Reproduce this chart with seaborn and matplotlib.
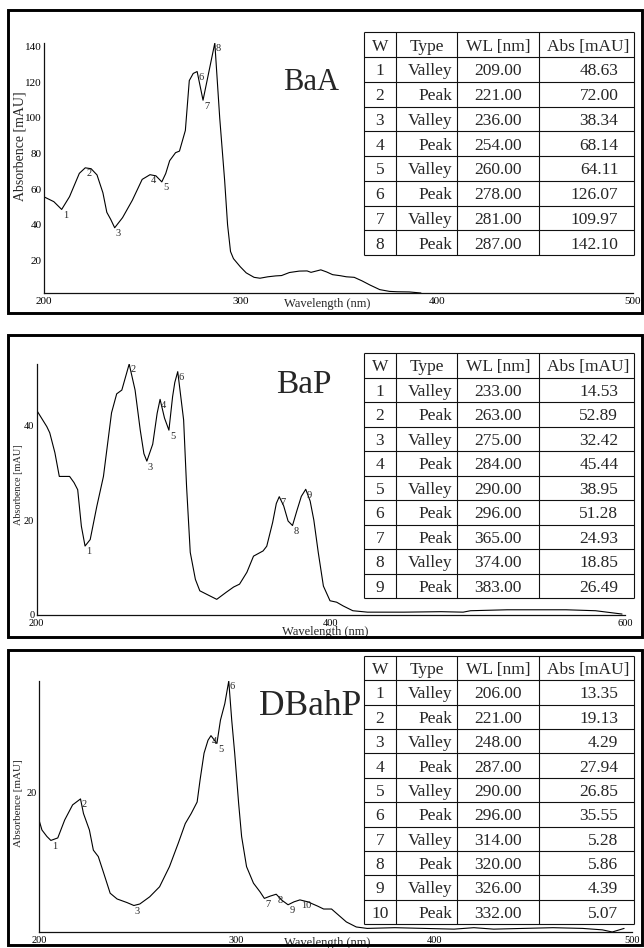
import matplotlib
matplotlib.use("Agg")
import matplotlib.pyplot as plt
import seaborn as sns
from matplotlib.patches import Rectangle

# ---------------- data ----------------
baa_wl = [200, 205, 209, 213, 218, 221, 224, 227, 230, 232, 234, 236, 240, 245, 250, 254, 257, 260,
          262, 264, 267, 269, 272, 274, 276, 278, 281, 287, 289.5, 292, 293.5, 295, 296.5,
          300, 303, 307, 310, 314, 318, 321, 325, 330, 334, 336, 341, 344, 347, 351, 354, 358,
          362, 366, 371, 376, 380, 386, 392]
baa_abs = [55.7, 53.0, 48.63, 55.8, 68.9, 72.0, 71.5, 68.0, 58.0, 47.0, 43.0, 38.34, 44.0, 53.8,
           65.5, 68.14, 67.5, 64.11, 68.8, 76.0, 80.5, 81.4, 93.0, 121.0, 125.0, 126.07, 109.97,
           142.1, 100.0, 65.0, 40.0, 25.0, 21.0,
           16.4, 13.0, 10.5, 10.0, 10.8, 11.3, 11.5, 13.2, 14.0, 14.1, 13.3, 14.7, 13.5, 12.0,
           11.4, 10.8, 10.5, 8.5, 6.2, 3.6, 2.6, 2.4, 2.3, 1.7]

bap_wl = [200, 207, 209, 212.5, 215.5, 222.5, 225.5, 228, 230.5, 233, 236.5, 241, 245.5, 251,
          254.5, 258, 263, 267, 270.5, 273, 275, 279, 282, 284, 287, 290, 292.5, 294, 296, 300,
          302, 304.5, 308, 311, 318, 322.5, 329, 334, 338, 343, 347.5, 354, 356.5, 360.5, 363,
          365, 368, 371, 374, 377, 380, 383, 386, 388.5, 391.5, 395, 399.5, 404, 408.5, 415,
          425, 450, 475, 490, 495, 520, 560, 580, 598]
bap_abs = [43.2, 39.7, 38.4, 34.2, 29.2, 29.2, 27.9, 26.4, 18.7, 14.53, 15.9, 22.9, 29.2, 42.6,
           46.6, 47.4, 52.89, 47.4, 39.0, 34.0, 32.42, 36.0, 42.5, 45.44, 41.5, 38.95, 46.0, 49.0,
           51.28, 41.1, 27.1, 13.2, 7.5, 5.1, 4.0, 3.3, 4.8, 5.9, 6.5, 9.0, 12.4, 13.5, 14.5,
           19.5, 23.5, 24.93, 23.0, 19.8, 18.85, 22.0, 25.0, 26.49, 24.0, 20.0, 13.2, 6.1, 3.0,
           2.7, 1.9, 0.9, 0.6, 0.6, 0.7, 0.6, 0.9, 1.1, 1.1, 0.9, 0.2]

dbp_wl = [200, 201.5, 204, 206, 209.5, 213, 217, 221, 222.5, 225.5, 227.5, 230, 232.5, 236,
          239.5, 244.5, 248, 251, 256, 261, 266, 270.5, 274, 277, 280, 281.5, 283.5, 285.5, 287,
          290, 291.8, 294, 296, 297.5, 299, 301, 302.5, 305, 308.5, 311.8, 314, 317, 320, 323,
          326, 329, 332, 336, 341, 344, 348, 350.5, 355.5, 360.5, 366, 380, 395, 410, 420, 430,
          445, 460, 475, 485, 490, 496]
dbp_abs = [16.2, 14.8, 13.9, 13.35, 13.7, 16.2, 18.3, 19.13, 17.1, 14.8, 12.0, 11.1, 9.0, 6.0,
           5.2, 4.7, 4.29, 4.5, 5.5, 6.9, 9.7, 13.0, 15.7, 17.1, 18.7, 21.8, 25.5, 27.3, 27.94,
           26.85, 30.1, 32.4, 35.55, 30.1, 25.5, 18.5, 13.9, 9.7, 7.4, 6.2, 5.28, 5.6, 5.86, 5.0,
           4.39, 4.8, 5.07, 4.8, 4.2, 3.8, 3.8, 3.2, 2.0, 1.3, 1.1, 1.2, 1.1, 1.0, 1.2, 1.0, 1.1,
           1.2, 1.1, 0.9, 0.6, 1.1]

baa_w = [1, 2, 3, 4, 5, 6, 7, 8]
baa_type = ["Valley", "Peak", "Valley", "Peak", "Valley", "Peak", "Valley", "Peak"]
baa_pwl = [209.00, 221.00, 236.00, 254.00, 260.00, 278.00, 281.00, 287.00]
baa_pabs = [48.63, 72.00, 38.34, 68.14, 64.11, 126.07, 109.97, 142.10]

bap_w = [1, 2, 3, 4, 5, 6, 7, 8, 9]
bap_type = ["Valley", "Peak", "Valley", "Peak", "Valley", "Peak", "Peak", "Valley", "Peak"]
bap_pwl = [233.00, 263.00, 275.00, 284.00, 290.00, 296.00, 365.00, 374.00, 383.00]
bap_pabs = [14.53, 52.89, 32.42, 45.44, 38.95, 51.28, 24.93, 18.85, 26.49]

dbp_w = [1, 2, 3, 4, 5, 6, 7, 8, 9, 10]
dbp_type = ["Valley", "Peak", "Valley", "Peak", "Valley", "Peak", "Valley", "Peak", "Valley", "Peak"]
dbp_pwl = [206.00, 221.00, 248.00, 287.00, 290.00, 296.00, 314.00, 320.00, 326.00, 332.00]
dbp_pabs = [13.35, 19.13, 4.29, 27.94, 26.85, 35.55, 5.28, 5.86, 4.39, 5.07]

compounds = ["BaA", "BaP", "DBahP"]
headers = ["W", "Type", "WL [nm]", "Abs [mAU]"]
x_label = "Wavelength (nm)"
y_label = "Absorbence [mAU]"

# ---------------- style ----------------
sns.set_style("white")
plt.rcParams['font.family'] = ['Liberation Serif', 'DejaVu Serif']

W, H = 644, 948
fig = plt.figure(figsize=(W / 100, H / 100), dpi=100)
fig.patch.set_facecolor("white")


def px_rect(l, t, r, b):
    return [l / W, 1 - b / H, (r - l) / W, (b - t) / H]


panels = [
    dict(name=compounds[0], wl=baa_wl, ab=baa_abs, w=baa_w, typ=baa_type, pwl=baa_pwl, pab=baa_pabs,
         ax=(44, 43, 633, 293), xlim=(200, 500), ylim=(1.7, 142.1),
         xt=[200, 300, 400, 500], yt=[20, 40, 60, 80, 100, 120, 140],
         tick_fs=8, ylab_fs=10, xlab_xy=(0.481, -0.018), ylab_xy=(-0.03, 0.588),
         border=(8.3, 10, 642, 313.3), table=(32.3, 255.0),
         name_xy=(311, 90), name_fs=22),
    dict(name=compounds[1], wl=bap_wl, ab=bap_abs, w=bap_w, typ=bap_type, pwl=bap_pwl, pab=bap_pabs,
         ax=(36.5, 364, 625, 615), xlim=(200, 600), ylim=(0, 52.89),
         xt=[200, 400, 600], yt=[0, 20, 40],
         tick_fs=7.5, ylab_fs=7.4, xlab_xy=(0.491, -0.044), ylab_xy=(-0.0235, 0.518),
         border=(8.3, 335, 642, 637), table=(353.3, 598.3),
         name_xy=(304, 393.3), name_fs=24),
    dict(name=compounds[2], wl=dbp_wl, ab=dbp_abs, w=dbp_w, typ=dbp_type, pwl=dbp_pwl, pab=dbp_pabs,
         ax=(39, 681, 632, 932), xlim=(200, 500), ylim=(0.6, 35.55),
         xt=[200, 300, 400, 500], yt=[20],
         tick_fs=7.5, ylab_fs=8, xlab_xy=(0.4865, -0.02), ylab_xy=(-0.0265, 0.512),
         border=(8.3, 650, 642, 945), table=(656.0, 924.0),
         name_xy=(310, 715), name_fs=25.5),
]

# table column geometry in px (relative to table left edge)
TL, TR = 364.0, 634.3
col_edges = [0, 31.7, 92.7, 175.0, TR - TL]

for p in panels:
    # border box
    l, t, r, b = p["border"]
    fig.add_artist(Rectangle((l / W, 1 - b / H), (r - l) / W, (b - t) / H,
                             transform=fig.transFigure, fill=False, lw=2.1, ec="black"))

    ax = fig.add_axes(px_rect(*p["ax"]))
    ax.set_facecolor("none")
    sns.lineplot(x=p["wl"], y=p["ab"], ax=ax, color="black", linewidth=0.8,
                 estimator=None, sort=False)
    ax.set_xlim(*p["xlim"])
    ax.set_ylim(*p["ylim"])
    ax.set_xticks(p["xt"])
    ax.set_yticks(p["yt"])
    ax.tick_params(axis="both", length=0, labelsize=p["tick_fs"], colors="black")
    ax.tick_params(axis="x", pad=2.6)
    ax.tick_params(axis="y", pad=1.6)
    sns.despine(ax=ax)
    for s in ("left", "bottom"):
        ax.spines[s].set_color("#111111")
        ax.spines[s].set_linewidth(0.9)
    ax.set_xlabel(x_label, fontsize=9)
    ax.set_ylabel(y_label, fontsize=p["ylab_fs"])
    ax.xaxis.set_label_coords(*p["xlab_xy"])
    ax.yaxis.set_label_coords(*p["ylab_xy"])

    # peak / valley numbers
    for wv, xv, yv in zip(p["w"], p["pwl"], p["pab"]):
        ax.annotate(str(wv), (xv, yv), xytext=(0.8, -1.0), textcoords="offset points",
                    ha="left", va="top", fontsize=7.5, annotation_clip=False)

    # compound name
    nx, ny = p["name_xy"]
    fig.text(nx / W, 1 - ny / H, p["name"], fontsize=p["name_fs"], ha="center", va="baseline")

    # table
    ttop, tbot = p["table"]
    nrows = len(p["w"]) + 1
    row_px = (tbot - ttop) / nrows
    tax = fig.add_axes(px_rect(TL, ttop, TR, tbot))
    tax.set_xlim(0, TR - TL)
    tax.set_ylim(nrows, 0)
    tax.axis("off")
    tax.hlines(range(nrows + 1), 0, TR - TL, colors="#111111", lw=0.8, clip_on=False)
    tax.vlines(col_edges, 0, nrows, colors="#111111", lw=0.8, clip_on=False)
    off = 5.9 / row_px
    fs = 12.5
    hx = [15.85, 63.0, 134.0, 224.0]
    for j, h in enumerate(headers):
        tax.text(hx[j], 0.5 + off, h, ha="center", va="baseline", fontsize=fs)
    for i, (wv, ty, xv, yv) in enumerate(zip(p["w"], p["typ"], p["pwl"], p["pab"]), start=1):
        yb = i + 0.5 + off
        tax.text(15.85, yb, str(wv), ha="center", va="baseline", fontsize=fs)
        tax.text(88.0, yb, ty, ha="right", va="baseline", fontsize=fs)
        tax.text(134.0, yb, f"{xv:.2f}", ha="center", va="baseline", fontsize=fs)
        tax.text(254.3, yb, f"{yv:.2f}", ha="right", va="baseline", fontsize=fs)

fig.savefig("out.png", dpi=100, facecolor="white")
